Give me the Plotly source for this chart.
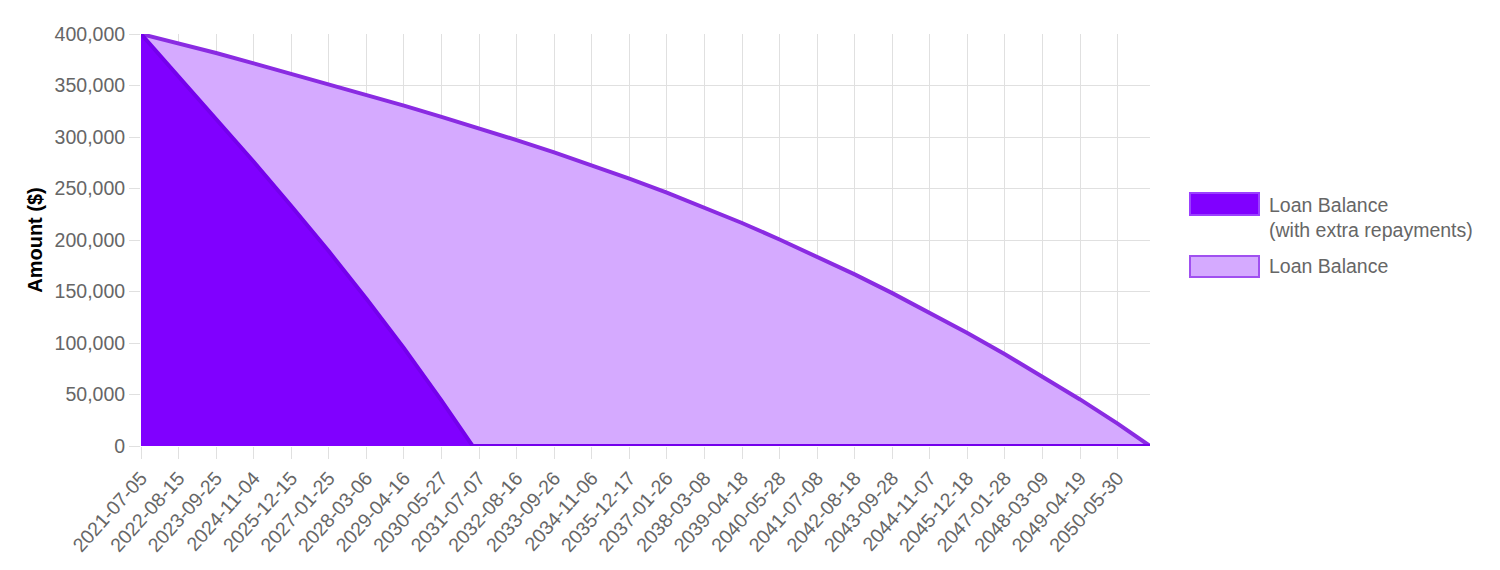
import plotly.graph_objects as go

# eixo x: datas das marcas (quinzenal, rótulos a cada 29 parcelas)
tick_dates = [
    "2021-07-05", "2022-08-15", "2023-09-25", "2024-11-04", "2025-12-15",
    "2027-01-25", "2028-03-06", "2029-04-16", "2030-05-27", "2031-07-07",
    "2032-08-16", "2033-09-26", "2034-11-06", "2035-12-17", "2037-01-26",
    "2038-03-08", "2039-04-18", "2040-05-28", "2041-07-08", "2042-08-18",
    "2043-09-28", "2044-11-07", "2045-12-18", "2047-01-28", "2048-03-09",
    "2049-04-19", "2050-05-30",
]
end_date = "2051-05-15"

balance_dates = tick_dates + [end_date]
balance_values = [
    400000, 391000, 381500, 371500, 361500, 351500, 341000, 330500, 319500,
    308500, 297000, 285000, 272500, 259500, 246000, 231500, 216500, 200500,
    184000, 166600, 148400, 129400, 109700, 89100, 67600, 45200, 21800, 0,
]

# saldo com amortizações extras
extra_dates = tick_dates[:9] + ["2031-04-28", end_date]
extra_values = [400000, 359000, 318000, 276000, 233000, 189000, 143000, 95000, 44000, 0, 0]

y_ticks = [0, 50000, 100000, 150000, 200000, 250000, 300000, 350000, 400000]

legend_names = ["Loan Balance<br>(with extra repayments)", "Loan Balance"]

FONT = "Liberation Sans, Arial, sans-serif"
GRID = "#E0E0E0"

W, H = 1500, 570
OFF = 8  # margem padrão do <body> da página
L, R, T, B = 133, 358, 26, 132


def px_x(px):
    return (px - OFF - L) / (W - L - R)


def px_y(py):
    return (H - B - (py - OFF)) / (H - T - B)


fig = go.Figure()

fig.add_trace(go.Scatter(
    x=balance_dates, y=balance_values,
    mode="lines", fill="tozeroy",
    fillcolor="#D5AAFF",
    line=dict(color="#8A2BE2", width=4),
    cliponaxis=False, showlegend=False,
))

fig.add_trace(go.Scatter(
    x=extra_dates, y=extra_values,
    mode="lines", fill="tozeroy",
    fillcolor="#8000FF",
    line=dict(color="#7400EC", width=4),
    cliponaxis=False, showlegend=False,
))

# legenda manual (caixas 70x22 como no original)
legend_boxes = [
    dict(y0=193, y1=215, fill="#8000FF", line="#9B40FF", text_y=217),
    dict(y0=256, y1=277, fill="#D5AAFF", line="#A050F0", text_y=266),
]
for box, name in zip(legend_boxes, legend_names):
    fig.add_shape(
        type="rect", xref="paper", yref="paper",
        x0=px_x(1190), x1=px_x(1259), y0=px_y(box["y1"]), y1=px_y(box["y0"]),
        fillcolor=box["fill"], line=dict(color=box["line"], width=2),
    )
    fig.add_annotation(
        xref="paper", yref="paper", x=px_x(1267), y=px_y(box["text_y"]),
        xanchor="left", yanchor="middle", align="left", showarrow=False,
        text=name, font=dict(family=FONT, size=19.5, color="#666666"),
    )

fig.update_xaxes(
    type="date",
    range=[tick_dates[0], end_date],
    tickvals=tick_dates, ticktext=tick_dates,
    tickangle=-48,
    tickfont=dict(family=FONT, size=19.5, color="#666666"),
    showgrid=True, gridcolor=GRID, gridwidth=1,
    ticks="outside", ticklen=12, tickcolor=GRID,
    showline=False, zeroline=False,
)

fig.update_yaxes(
    range=[0, 400000],
    tickvals=y_ticks, tickformat=",d",
    tickfont=dict(family=FONT, size=19.5, color="#666666"),
    showgrid=True, gridcolor=GRID, gridwidth=1,
    ticks="outside", ticklen=11, tickcolor=GRID,
    showline=False, zeroline=False,
    title=dict(text="<b>Amount ($)</b>", standoff=6,
               font=dict(family=FONT, size=20, color="#000000")),
)

fig.update_layout(
    width=W, height=H,
    autosize=False,
    margin=dict(l=L, r=R, t=T, b=B),
    paper_bgcolor="white",
    plot_bgcolor="white",
    showlegend=False,
)

fig.write_html("out.html")
